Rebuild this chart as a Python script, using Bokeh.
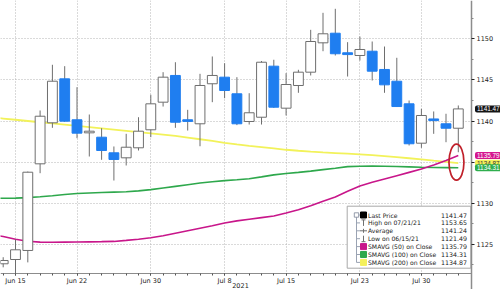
import numpy as np
from bokeh.plotting import figure
from bokeh.models import FixedTicker, Label, Range1d, BoxAnnotation
from bokeh.core.properties import value
from bokeh.embed import file_html
from bokeh.resources import INLINE

# ---------------- data ----------------
dates = ["Jun 14", "Jun 15", "Jun 16", "Jun 17", "Jun 18", "Jun 21", "Jun 22", "Jun 23",
         "Jun 24", "Jun 25", "Jun 28", "Jun 29", "Jun 30", "Jul 1", "Jul 2", "Jul 5",
         "Jul 6", "Jul 7", "Jul 8", "Jul 9", "Jul 12", "Jul 13", "Jul 14", "Jul 15",
         "Jul 16", "Jul 19", "Jul 20", "Jul 21", "Jul 22", "Jul 23", "Jul 26", "Jul 27",
         "Jul 28", "Jul 29", "Jul 30", "Aug 2", "Aug 3", "Aug 4"]
opens = [1122.63, 1123.15, 1124.25, 1134.79, 1139.78, 1145.13, 1140.15, 1138.56,
         1138.03, 1136.13, 1135.52, 1136.74, 1138.93, 1142.29, 1145.54, 1140.15,
         1139.66, 1144.53, 1145.33, 1143.31, 1139.94, 1140.46, 1146.67, 1141.56,
         1144.32, 1145.94, 1149.51, 1150.68, 1148.30, 1147.97, 1148.49, 1146.27,
         1144.84, 1142.09, 1137.30, 1140.25, 1139.66, 1139.12]
highs = [1123.43, 1125.58, 1133.85, 1141.28, 1146.84, 1146.67, 1144.11, 1140.79,
         1139.12, 1136.90, 1138.44, 1140.46, 1143.19, 1145.94, 1147.15, 1141.36,
         1145.74, 1147.85, 1147.03, 1145.33, 1143.38, 1147.30, 1147.45, 1145.82,
         1146.23, 1151.09, 1153.16, 1153.65, 1149.59, 1150.28, 1149.67, 1149.06,
         1147.69, 1142.49, 1141.48, 1141.16, 1140.88, 1141.89]
lows = [1122.20, 1121.49, 1122.80, 1133.65, 1139.17, 1139.90, 1137.91, 1135.68,
        1135.28, 1132.76, 1134.59, 1136.41, 1138.03, 1141.76, 1139.17, 1138.84,
        1136.93, 1142.29, 1142.77, 1139.50, 1139.57, 1139.57, 1141.60, 1140.67,
        1143.43, 1145.54, 1148.49, 1147.97, 1145.41, 1147.36, 1144.93, 1143.43,
        1141.70, 1137.02, 1136.74, 1138.44, 1137.42, 1136.20]
closes = [1123.03, 1124.33, 1133.77, 1140.58, 1144.84, 1139.98, 1138.52, 1138.76,
          1136.41, 1135.32, 1136.81, 1138.76, 1142.09, 1145.33, 1139.85, 1139.95,
          1144.32, 1145.54, 1143.71, 1139.66, 1141.00, 1147.15, 1141.68, 1144.44,
          1145.94, 1149.67, 1150.61, 1148.18, 1148.08, 1148.70, 1146.06, 1144.40,
          1141.76, 1137.23, 1140.67, 1140.05, 1139.12, 1141.47]

sma_dates = ["Jun 11"] + dates
sma50 = [1126.20, 1125.95, 1125.62, 1125.38, 1125.27, 1125.25, 1125.27, 1125.28,
         1125.30, 1125.32, 1125.35, 1125.48, 1125.62, 1125.80, 1126.05, 1126.35,
         1126.65, 1126.95, 1127.25, 1127.60, 1127.85, 1128.05, 1128.25, 1128.45,
         1128.80, 1129.20, 1129.70, 1130.25, 1130.75, 1131.45, 1132.10, 1132.55,
         1132.95, 1133.35, 1133.75, 1134.15, 1134.65, 1135.20, 1135.79]
sma100 = [1130.58, 1130.60, 1130.62, 1130.68, 1130.78, 1130.90, 1131.05, 1131.18,
          1131.25, 1131.30, 1131.35, 1131.40, 1131.50, 1131.65, 1131.85, 1132.05,
          1132.25, 1132.45, 1132.60, 1132.75, 1132.85, 1132.98, 1133.20, 1133.45,
          1133.62, 1133.75, 1133.90, 1134.08, 1134.25, 1134.45, 1134.50, 1134.52,
          1134.50, 1134.46, 1134.42, 1134.38, 1134.35, 1134.33, 1134.31]
sma200 = [1140.45, 1140.30, 1140.15, 1140.00, 1139.85, 1139.70, 1139.55, 1139.40,
          1139.25, 1139.10, 1138.95, 1138.80, 1138.65, 1138.50, 1138.35, 1138.18,
          1137.98, 1137.78, 1137.58, 1137.35, 1137.15, 1136.98, 1136.82, 1136.66,
          1136.50, 1136.38, 1136.27, 1136.18, 1136.10, 1136.02, 1135.94, 1135.84,
          1135.72, 1135.60, 1135.47, 1135.33, 1135.17, 1135.02, 1134.87]

tick_labels = ["Jun 15", "Jun 22", "Jun 30", "Jul 8", "Jul 15", "Jul 23", "Jul 30"]
year_label = "2021"
y_ticks = [1125, 1130, 1135, 1140, 1145, 1150]

legend_names = ["Last Price", "High on 07/21/21", "Average", "Low on 06/15/21",
                "SMAVG (50)  on Close", "SMAVG (100)  on Close", "SMAVG (200)  on Close"]
legend_values = [1141.47, 1153.65, 1141.24, 1121.49, 1135.79, 1134.31, 1134.87]

# ---------------- styles / layout ----------------
FONT = "DejaVu Sans"
TAGFONT = "Liberation Sans"
UP_FILL, DOWN_FILL = "white", "#1f7ef0"
WICK = "#6e6e6e"
C50, C100, C200 = "#c8168a", "#2ea84c", "#f2f25a"
GRID = "#b4b4b4"

W, H = 500, 289
PX_DAY, PX_OFF = 12.3, 2.7          # pixels per day, offset of first day
PX_UNIT, PY_1150 = 8.22, 38.3       # pixels per price unit, pixel row of 1150
X0, X1 = -PX_OFF / PX_DAY, (W - PX_OFF) / PX_DAY
Y1, Y0 = 1150 + PY_1150 / PX_UNIT, 1150 - (H - PY_1150) / PX_UNIT


def dx(px):
    return X0 + px / W * (X1 - X0)


def dy(py):
    return Y1 - py / H * (Y1 - Y0)


AXIS_X = dx(471)     # right price axis
AXIS_Y = dy(272.5)   # bottom time axis

p = figure(width=W, height=H, x_range=Range1d(X0, X1), y_range=Range1d(Y0, Y1),
           output_backend="svg", toolbar_location=None, y_axis_location="right",
           min_border_left=0, min_border_top=0, min_border_right=0, min_border_bottom=0)
p.outline_line_color = None
p.background_fill_color = "white"
p.border_fill_color = "white"

idx = list(range(len(dates)))
sidx = list(range(-1, len(dates)))

# axes
pos = [dates.index(t) for t in tick_labels]
xax = p.xaxis[0]
xax.fixed_location = AXIS_Y
xax.bounds = (X0, AXIS_X)
xax.ticker = FixedTicker(ticks=pos, minor_ticks=idx)
xax.major_label_overrides = {pp: t for pp, t in zip(pos, tick_labels)}
xax.axis_line_color = "#8c8c8c"
xax.axis_line_width = 1.2
xax.major_tick_line_color = "#555"
xax.minor_tick_line_color = "#555"
xax.major_tick_in = 0
xax.major_tick_out = 2
xax.minor_tick_in = 0
xax.minor_tick_out = 2
xax.major_label_standoff = 2
xax.major_label_text_font = FONT
xax.major_label_text_font_size = "6.5px"
xax.major_label_text_color = "#222"

yax = p.yaxis[0]
yax.fixed_location = AXIS_X
yax.ticker = FixedTicker(ticks=y_ticks,
                         minor_ticks=[t - 2.5 for t in y_ticks] + [y_ticks[-1] + 2.5])
yax.major_label_overrides = {1135: ""}
yax.axis_line_color = "#8c8c8c"
yax.axis_line_width = 1.5
yax.major_tick_line_color = "#222"
yax.major_tick_in = 0
yax.major_tick_out = 3
yax.minor_tick_line_color = "#888"
yax.minor_tick_in = 0
yax.minor_tick_out = 2
yax.major_label_standoff = 2
yax.major_label_text_font = FONT
yax.major_label_text_font_size = "6.5px"
yax.major_label_text_color = "#222"

for g in (p.xgrid[0], p.ygrid[0]):
    g.grid_line_color = GRID
    g.grid_line_dash = "1 2"
    g.grid_line_width = 1

# white masks so that the grid stops at the axes
p.add_layout(BoxAnnotation(left=AXIS_X, level="underlay", fill_color="white",
                           fill_alpha=1, line_color=None))
p.add_layout(BoxAnnotation(top=AXIS_Y, level="underlay", fill_color="white",
                           fill_alpha=1, line_color=None))

# SMA lines
p.line(sidx, sma200, line_color=C200, line_width=1.8)
p.line(sidx, sma100, line_color=C100, line_width=1.6)
p.line(sidx, sma50, line_color=C50, line_width=1.6)

# candles
up = [c >= o for o, c in zip(opens, closes)]
tops = [max(o, c) for o, c in zip(opens, closes)]
bots = [min(o, c) for o, c in zip(opens, closes)]
fills = [UP_FILL if u else DOWN_FILL for u in up]
lcols = ["#6e6e6e" if u else DOWN_FILL for u in up]
p.segment(x0=idx, y0=lows, x1=idx, y1=highs, line_color=WICK, line_width=1)
p.vbar(x=idx, width=0.8, top=tops, bottom=bots, fill_color=fills, line_color=lcols,
       line_width=1)

# highlight ellipse around the final averages
ends = [sma50[-1], sma100[-1], sma200[-1]]
p.ellipse(x=[idx[-1] - 0.15], y=[float(np.mean(ends))], width=15, height=36,
          width_units="screen", height_units="screen", fill_color=None,
          line_color="#c0202a", line_width=1.7)

# legend box
rows = [214.5 + 7.9 * k for k in range(len(legend_names))]
p.quad(left=[dx(346.7)], right=[dx(470.3)], top=[dy(205.7)], bottom=[dy(267.7)],
       fill_color="white", line_color="#a8a8a8", line_width=1)
TREE = "#9aa3b3"
p.segment(x0=[dx(356)], y0=[dy(rows[0])], x1=[dx(356)], y1=[dy(rows[-1])],
          line_color=TREE, line_width=1)
p.segment(x0=[dx(356)] * len(rows), y0=[dy(r) for r in rows],
          x1=[dx(359.5)] * len(rows), y1=[dy(r) for r in rows], line_color=TREE, line_width=1)
p.quad(left=[dx(353.8)], right=[dx(358.2)], top=[dy(rows[0] - 2.2)], bottom=[dy(rows[0] + 2.2)],
       fill_color="white", line_color="#7a8396", line_width=0.8)
sq_rows = [rows[0], rows[4], rows[5], rows[6]]
sq_cols = ["black", C50, C100, "#f4f05a"]
p.quad(left=[dx(360)] * 4, right=[dx(366)] * 4, top=[dy(r - 3) for r in sq_rows],
       bottom=[dy(r + 3) for r in sq_rows], fill_color=sq_cols, line_color=sq_cols)
ICON = "#707070"
p.segment(x0=[dx(363)] * 2, y0=[dy(rows[1] - 3), dy(rows[3] - 3)],
          x1=[dx(363)] * 2, y1=[dy(rows[1] + 3), dy(rows[3] + 3)], line_color=ICON, line_width=1)
p.segment(x0=[dx(361), dx(361)], y0=[dy(rows[1] - 3), dy(rows[3] + 3)],
          x1=[dx(365), dx(365)], y1=[dy(rows[1] - 3), dy(rows[3] + 3)], line_color=ICON, line_width=1)
p.segment(x0=[dx(359.5), dx(363)], y0=[dy(rows[2]), dy(rows[2] - 2)],
          x1=[dx(366.5), dx(363)], y1=[dy(rows[2]), dy(rows[2] + 2)], line_color=ICON, line_width=1)
p.text(x=[dx(367.5)] * len(rows), y=[dy(r) for r in rows], text=legend_names,
       text_font=value(FONT), text_font_size="6.1px", text_baseline="middle",
       text_color="#1a1a1a")
p.text(x=[dx(466.5)] * len(rows), y=[dy(r) for r in rows],
       text=[f"{v:.2f}" for v in legend_values], text_font=value(FONT),
       text_font_size="6.3px", text_baseline="middle", text_align="right",
       text_color="#1a1a1a")

# right-side value tags
tags = [(sma200[-1], "#f4f05a", "#333"), (sma50[-1], "#d4168e", "white"),
        (sma100[-1], "#2fae4e", "white"), (closes[-1], "#141414", "white")]
for v, bg, fg in tags:
    p.add_layout(Label(x=dx(474.5), y=v, text=f"{v:.2f}", text_font=TAGFONT,
                       text_font_size="6.4px", text_color=fg,
                       text_baseline="middle", background_fill_color=bg,
                       padding=(2, 1), border_radius=2))

# year label
p.add_layout(Label(x=dx(240), y=dy(284.5), text=year_label, text_font=FONT,
                   text_font_size="6.5px", text_color="#222", text_align="center",
                   text_baseline="middle"))

open("out.html", "w").write(file_html(p, INLINE))
